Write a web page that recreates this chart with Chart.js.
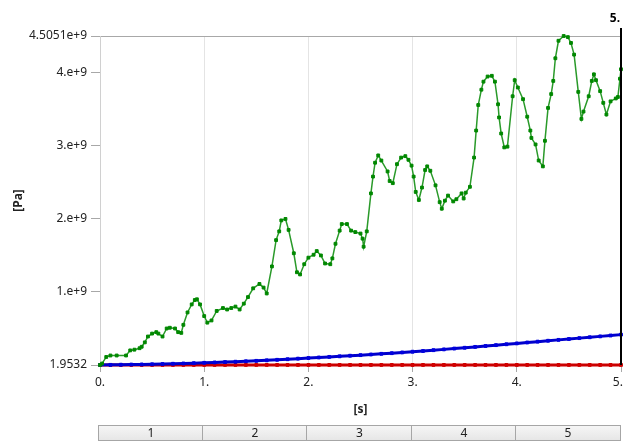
<!DOCTYPE html>
<html>
<head>
<meta charset="utf-8">
<script src="https://cdn.jsdelivr.net/npm/chart.js@4/dist/chart.umd.min.js"></script>
<style>
  html, body { margin: 0; padding: 0; background: #ffffff; }
  #wrap { width: 626px; height: 442px; }
</style>
</head>
<body>
<div id="wrap"><canvas id="chart" width="626" height="442"></canvas></div>
<script>
// time axis [s]
const xTickValues = [0, 1, 2, 3, 4, 5];
const xTickLabels = ['0.', '1.', '2.', '3.', '4.', '5.'];

// pressure axis [Pa]
const yTickValues = [1.9532, 1e9, 2e9, 3e9, 4e9, 4.5051e9];
const yTickLabels = ['1.9532', '1.e+9', '2.e+9', '3.e+9', '4.e+9', '4.5051e+9'];

// step table below the chart
const stepLabels = ['1', '2', '3', '4', '5'];

// current time marker
const markerTime = 5;
const markerLabel = '5.';

// green series (values in units of 1e9 Pa)
const greenT = [
  0.00, 0.02, 0.06, 0.10, 0.16, 0.25, 0.29, 0.33, 0.38, 0.40, 0.43, 0.46, 0.50, 0.54, 0.56, 0.60,
  0.64, 0.67, 0.72, 0.75, 0.78, 0.80, 0.84, 0.88, 0.91, 0.93, 0.96, 1.00, 1.03, 1.07, 1.12, 1.18,
  1.22, 1.26, 1.30, 1.34, 1.38, 1.42, 1.47, 1.53, 1.57, 1.60, 1.65, 1.69, 1.72, 1.74, 1.78, 1.81,
  1.86, 1.89, 1.92, 1.96, 2.00, 2.05, 2.08, 2.12, 2.16, 2.21, 2.23, 2.26, 2.30, 2.32, 2.37, 2.41,
  2.45, 2.50, 2.52, 2.53, 2.56, 2.60, 2.62, 2.64, 2.67, 2.70, 2.76, 2.78, 2.81, 2.85, 2.89, 2.93,
  2.96, 2.99, 3.01, 3.03, 3.06, 3.09, 3.12, 3.14, 3.17, 3.22, 3.26, 3.28, 3.31, 3.34, 3.39, 3.42,
  3.47, 3.49, 3.51, 3.55, 3.59, 3.61, 3.63, 3.66, 3.68, 3.72, 3.76, 3.79, 3.82, 3.83, 3.85, 3.88,
  3.91, 3.96, 3.98, 4.01, 4.06, 4.10, 4.13, 4.14, 4.18, 4.21, 4.25, 4.27, 4.30, 4.33, 4.35, 4.37,
  4.40, 4.45, 4.49, 4.52, 4.55, 4.59, 4.62, 4.64, 4.69, 4.72, 4.74, 4.76, 4.80, 4.83, 4.86, 4.90,
  4.95, 4.97, 4.99, 5.00
];
const greenV = [
  0.00, 0.02, 0.11, 0.13, 0.13, 0.13, 0.20, 0.21, 0.23, 0.25, 0.31, 0.39, 0.43, 0.45, 0.43, 0.39,
  0.50, 0.51, 0.50, 0.45, 0.44, 0.55, 0.72, 0.83, 0.89, 0.90, 0.83, 0.67, 0.58, 0.61, 0.74, 0.78,
  0.76, 0.78, 0.80, 0.76, 0.84, 0.93, 1.05, 1.11, 1.06, 0.98, 1.35, 1.71, 1.83, 1.98, 2.00, 1.85,
  1.53, 1.27, 1.24, 1.38, 1.47, 1.51, 1.56, 1.50, 1.39, 1.38, 1.46, 1.66, 1.84, 1.93, 1.93, 1.84,
  1.82, 1.80, 1.73, 1.62, 1.83, 2.35, 2.58, 2.77, 2.87, 2.80, 2.65, 2.52, 2.49, 2.75, 2.84, 2.86,
  2.81, 2.73, 2.58, 2.37, 2.26, 2.43, 2.67, 2.72, 2.66, 2.46, 2.23, 2.14, 2.25, 2.32, 2.24, 2.27,
  2.35, 2.28, 2.36, 2.44, 2.84, 3.21, 3.56, 3.77, 3.88, 3.95, 3.96, 3.88, 3.57, 3.39, 3.17, 2.98,
  2.99, 3.68, 3.90, 3.80, 3.64, 3.40, 3.21, 3.11, 3.02, 2.80, 2.72, 3.07, 3.52, 3.71, 3.89, 4.20,
  4.44, 4.5051, 4.49, 4.41, 4.25, 3.74, 3.37, 3.47, 3.68, 3.89, 3.98, 3.90, 3.75, 3.59, 3.43, 3.61,
  3.65, 3.67, 3.92, 4.05
];

// blue and red series share the same sample times
const sampleT = [
  0.0, 0.1, 0.2, 0.3, 0.4, 0.5, 0.6, 0.7, 0.8, 0.9, 1.0, 1.1, 1.2, 1.3, 1.4, 1.5, 1.6,
  1.7, 1.8, 1.9, 2.0, 2.1, 2.2, 2.3, 2.4, 2.5, 2.6, 2.7, 2.8, 2.9, 3.0, 3.1, 3.2, 3.3,
  3.4, 3.5, 3.6, 3.7, 3.8, 3.9, 4.0, 4.1, 4.2, 4.3, 4.4, 4.5, 4.6, 4.7, 4.8, 4.9, 5.0
];
const blueV = [
  0.000, 0.002, 0.004, 0.006, 0.008, 0.010, 0.013, 0.017, 0.021, 0.025, 0.030, 0.035, 0.040,
  0.045, 0.051, 0.057, 0.064, 0.071, 0.079, 0.087, 0.095, 0.103, 0.111, 0.119, 0.127, 0.135,
  0.144, 0.153, 0.162, 0.172, 0.182, 0.192, 0.203, 0.214, 0.225, 0.236, 0.248, 0.260, 0.272,
  0.284, 0.296, 0.308, 0.320, 0.332, 0.344, 0.356, 0.368, 0.380, 0.392, 0.404, 0.416
];
const redV = [
  0.000, 0.000, 0.001, 0.001, 0.001, 0.001, 0.001, 0.001, 0.001, 0.001, 0.001, 0.001, 0.001,
  0.001, 0.001, 0.001, 0.001, 0.001, 0.001, 0.001, 0.001, 0.001, 0.001, 0.001, 0.001, 0.001,
  0.001, 0.001, 0.001, 0.001, 0.001, 0.001, 0.001, 0.001, 0.001, 0.001, 0.001, 0.001, 0.001,
  0.001, 0.001, 0.001, 0.001, 0.001, 0.001, 0.001, 0.001, 0.001, 0.001, 0.001, 0.001
];

const GPA = 1e9;
const FONT = '"Noto Sans", "Open Sans", sans-serif';

// turn a time array and value array into {x, y} points
function toPoints(ts, vs) {
    return ts.map((t, i) => ({ x: t, y: Math.max(vs[i] * GPA, yTickValues[0]) }));
}

// draws the current-time marker and the step table
const overlayPlugin = {
    id: 'overlay',
    afterDatasetsDraw(chart) {
        const ctx = chart.ctx;
        const xs = chart.scales.x;
        const area = chart.chartArea;
        const mx = xs.getPixelForValue(markerTime);

        ctx.save();
        ctx.strokeStyle = '#000000';
        ctx.lineWidth = 2;
        ctx.beginPath();
        ctx.moveTo(mx, 28);
        ctx.lineTo(mx, area.bottom);
        ctx.stroke();

        ctx.fillStyle = '#000000';
        ctx.font = 'bold 12px ' + FONT;
        ctx.textAlign = 'right';
        ctx.textBaseline = 'middle';
        ctx.fillText(markerLabel, mx - 1, 19);
        ctx.restore();
    },
    afterDraw(chart) {
        const ctx = chart.ctx;
        const xs = chart.scales.x;
        const top = 425.5, h = 15;
        ctx.save();
        stepLabels.forEach((lbl, i) => {
            const x0 = Math.round(xs.getPixelForValue(i)) - 1.5;
            const x1 = Math.min(Math.round(xs.getPixelForValue(i + 1)) - 0.5, chart.width - 1.5);
            const grad = ctx.createLinearGradient(0, top, 0, top + h);
            grad.addColorStop(0, '#f6f6f6');
            grad.addColorStop(1, '#e6e6e6');
            ctx.fillStyle = grad;
            ctx.fillRect(x0, top, x1 - x0, h);
            ctx.strokeStyle = '#a6a6a6';
            ctx.lineWidth = 1;
            ctx.strokeRect(x0, top, x1 - x0, h);
            ctx.fillStyle = '#222222';
            ctx.font = '12px ' + FONT;
            ctx.textAlign = 'center';
            ctx.textBaseline = 'middle';
            ctx.fillText(lbl, (x0 + x1) / 2, top + h / 2 + 0.5);
        });
        ctx.restore();
    }
};

const ctx = document.getElementById('chart').getContext('2d');
new Chart(ctx, {
    type: 'line',
    data: {
        datasets: [
            {
                data: toPoints(greenT, greenV),
                borderColor: '#2a9a2a',
                borderWidth: 1.5,
                pointStyle: 'rect',
                pointRadius: 2,
                pointBorderWidth: 1,
                pointBackgroundColor: '#008800',
                pointBorderColor: '#008800',
                tension: 0,
                order: 0,
                clip: 4
            },
            {
                data: toPoints(sampleT, blueV),
                borderColor: '#0000cc',
                borderWidth: 3,
                pointStyle: 'rect',
                pointRadius: 2,
                pointBorderWidth: 1,
                pointBackgroundColor: '#0000dd',
                pointBorderColor: '#0000dd',
                order: 1,
                clip: 4
            },
            {
                data: toPoints(sampleT, redV),
                borderColor: '#cc0000',
                borderWidth: 3,
                pointStyle: 'rect',
                pointRadius: 2,
                pointBorderWidth: 1,
                pointBackgroundColor: '#d00000',
                pointBorderColor: '#d00000',
                order: 2,
                clip: 4
            }
        ]
    },
    options: {
        responsive: false,
        animation: false,
        devicePixelRatio: 1,
        layout: { padding: { top: 36, right: 1, bottom: 0, left: 0 } },
        plugins: {
            legend: { display: false },
            tooltip: { enabled: false }
        },
        scales: {
            x: {
                type: 'linear',
                min: xTickValues[0],
                max: xTickValues[xTickValues.length - 1],
                afterBuildTicks(scale) {
                    scale.ticks = xTickValues.map(v => ({ value: v }));
                },
                afterFit(scale) {
                    scale.height = 77;
                    scale.paddingLeft = 0;
                    scale.paddingRight = 0;
                },
                ticks: {
                    autoSkip: false,
                    maxRotation: 0,
                    padding: 3,
                    color: '#222222',
                    font: { family: FONT, size: 12 },
                    callback(value, index) {
                        // keep last label inside the canvas
                        return index === xTickLabels.length - 1 ? xTickLabels[index] + '  ' : xTickLabels[index];
                    }
                },
                grid: {
                    color: c => (c.index === 0 || c.index === xTickValues.length - 1) ? 'rgba(0,0,0,0)' : '#e4e4e4',
                    tickColor: '#a8a8a8',
                    tickLength: 7
                },
                border: { display: true, color: '#d0d0d0' },
                title: {
                    display: true,
                    text: '[s]',
                    color: '#222222',
                    font: { family: FONT, size: 12, weight: 'bold' },
                    padding: { top: 0, bottom: 25 }
                }
            },
            y: {
                type: 'linear',
                min: yTickValues[0],
                max: yTickValues[yTickValues.length - 1],
                afterBuildTicks(scale) {
                    scale.ticks = yTickValues.map(v => ({ value: v }));
                },
                afterFit(scale) {
                    scale.width = 100;
                    scale.paddingTop = 0;
                    scale.paddingBottom = 0;
                },
                ticks: {
                    autoSkip: false,
                    padding: 4,
                    color: '#222222',
                    font: { family: FONT, size: 12 },
                    callback(value, index) {
                        return yTickLabels[index];
                    }
                },
                grid: {
                    color: c => (c.index === yTickValues.length - 1) ? '#a8a8a8' : 'rgba(0,0,0,0)',
                    tickColor: '#a8a8a8',
                    tickLength: 9
                },
                border: { display: true, color: '#d0d0d0' },
                title: {
                    display: true,
                    text: '[Pa]',
                    color: '#222222',
                    font: { family: FONT, size: 12, weight: 'bold' },
                    padding: { top: 11, bottom: 0 }
                }
            }
        }
    },
    plugins: [overlayPlugin]
});
</script>
</body>
</html>
